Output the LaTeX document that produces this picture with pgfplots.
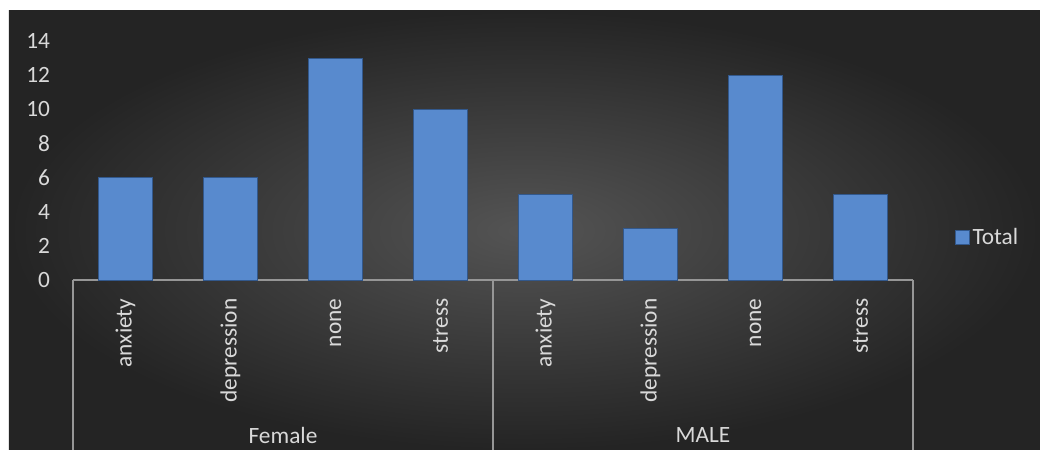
\documentclass[border=0pt]{standalone}
\usepackage{pgfplots}
\pgfplotsset{compat=1.18}
\usepackage{fontspec}
\setmainfont{Carlito}
\definecolor{bgin}{RGB}{84,84,84}
\definecolor{bgout}{RGB}{36,36,36}
\definecolor{gridc}{RGB}{96,96,96}
\definecolor{axc}{RGB}{150,150,150}
\definecolor{txt}{RGB}{217,217,217}
\definecolor{barfill}{RGB}{88,138,206}
\definecolor{bartop}{RGB}{140,178,226}
\definecolor{barline}{RGB}{50,88,140}
\begin{document}
\begin{tikzpicture}
\fontsize{17.5}{21}\selectfont
% page bounds
\fill[white] (-54.75pt,-132pt) rectangle (725.25pt,210pt);
% dark background
\shade[inner color=bgin, outer color=bgout] (-48pt,-127.5pt) rectangle (725.25pt,201.75pt);
\begin{axis}[
  at={(0,0)}, anchor=south west,
  scale only axis,
  width=630pt, height=179.25pt,
  xmin=-0.5, xmax=7.5,
  ymin=0, ymax=14,
  ytick={0,2,...,14},
  xtick={0,...,7},
  xticklabels={anxiety,depression,none,stress,anxiety,depression,none,stress},
  axis x line*=bottom,
  axis y line=none,
  x axis line style={draw=axc, line width=0.8pt, -},
  major tick length=0pt,
  ymajorgrids,
  grid style={draw=gridc, line width=0.8pt},
  xticklabel style={rotate=90, anchor=east, text=txt, font=\fontsize{17.5}{21}\selectfont},
  xticklabel shift=8pt,
  /pgf/number format/assume math mode=true,
  ybar, bar width=40.5pt,
  legend style={at={(1.045,0.176)}, anchor=west, draw=none, fill=none, text=txt, font=\fontsize{17.5}{21}\selectfont},
  legend image code/.code={\path[draw=barline, fill=barfill] (0pt,-5pt) rectangle (10.5pt,5.5pt);},
  clip=false,
]
\addplot[draw=barline, line width=0.6pt, fill=barfill]
  coordinates {(0,6) (1,6) (2,13) (3,10) (4,5) (5,3) (6,12) (7,5)};
\addlegendentry{Total}
\end{axis}
% y tick labels
\foreach \v in {0,2,...,14} {
  \node[anchor=east, text=txt, inner sep=0pt] at (-17pt, {\v*179.25pt/14}) {\v};
}
% category box lines
\draw[axc, line width=0.8pt] (0pt,0pt) -- (0pt,-127.5pt);
\draw[axc, line width=0.8pt] (315pt,0pt) -- (315pt,-127.5pt);
\draw[axc, line width=0.8pt] (630pt,0pt) -- (630pt,-127.5pt);
\node[text=txt] at (157.5pt,-116.25pt) {Female};
\node[text=txt] at (472.5pt,-116.25pt) {MALE};
\end{tikzpicture}
\end{document}
